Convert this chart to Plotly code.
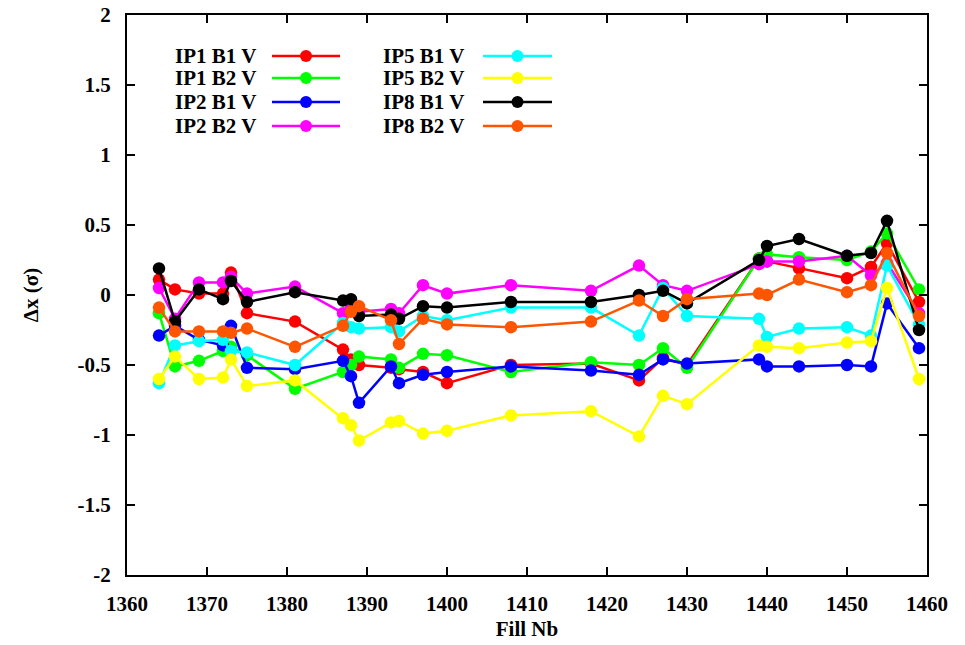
import plotly.graph_objects as go

# ---- data ----
fills = [1364, 1366, 1369, 1372, 1373, 1375, 1381, 1387, 1388, 1389, 1393, 1394, 1397,
         1400, 1408, 1418, 1424, 1427, 1430, 1439, 1440, 1444, 1450, 1453, 1455, 1459]

ip1_b1 = [0.11, 0.04, 0.01, 0.01, 0.16, -0.13, -0.19, -0.39, -0.46, -0.50, -0.52, -0.53, -0.55,
          -0.63, -0.50, -0.49, -0.61, -0.45, -0.50, 0.26, 0.24, 0.19, 0.12, 0.20, 0.37, -0.05]
ip1_b2 = [-0.13, -0.51, -0.47, -0.40, -0.37, -0.43, -0.67, -0.55, -0.50, -0.44, -0.46, -0.52, -0.42,
          -0.43, -0.55, -0.48, -0.50, -0.38, -0.52, 0.26, 0.29, 0.27, 0.25, 0.31, 0.44, 0.04]
ip2_b1 = [-0.29, -0.22, -0.32, -0.36, -0.22, -0.52, -0.53, -0.47, -0.58, -0.77, -0.51, -0.63, -0.57,
          -0.55, -0.51, -0.54, -0.57, -0.46, -0.49, -0.46, -0.51, -0.51, -0.50, -0.51, -0.06, -0.38]
ip2_b2 = [0.05, -0.17, 0.09, 0.09, 0.13, 0.01, 0.06, -0.13, -0.10, -0.12, -0.10, -0.13, 0.07,
          0.01, 0.07, 0.03, 0.21, 0.07, 0.03, 0.22, 0.24, 0.24, 0.28, 0.14, 0.23, -0.13]
ip5_b1 = [-0.63, -0.36, -0.33, -0.32, -0.40, -0.41, -0.50, -0.20, -0.23, -0.24, -0.23, -0.26, -0.15,
          -0.18, -0.09, -0.09, -0.29, 0.05, -0.15, -0.17, -0.30, -0.24, -0.23, -0.29, 0.21, -0.21]
ip5_b2 = [-0.60, -0.44, -0.60, -0.59, -0.46, -0.65, -0.61, -0.88, -0.93, -1.04, -0.91, -0.90, -0.99,
          -0.97, -0.86, -0.83, -1.01, -0.72, -0.78, -0.36, -0.37, -0.38, -0.34, -0.33, 0.05, -0.60]
ip8_b1 = [0.19, -0.19, 0.04, -0.03, 0.10, -0.05, 0.02, -0.04, -0.03, -0.15, -0.14, -0.17, -0.08,
          -0.09, -0.05, -0.05, 0.00, 0.03, -0.06, 0.25, 0.35, 0.40, 0.28, 0.30, 0.53, -0.25]
ip8_b2 = [-0.09, -0.26, -0.26, -0.26, -0.27, -0.24, -0.37, -0.22, -0.12, -0.08, -0.18, -0.35, -0.17,
          -0.21, -0.23, -0.19, -0.04, -0.15, -0.03, 0.01, 0.00, 0.11, 0.02, 0.07, 0.30, -0.15]

series_names = ["IP1 B1 V", "IP1 B2 V", "IP2 B1 V", "IP2 B2 V",
                "IP5 B1 V", "IP5 B2 V", "IP8 B1 V", "IP8 B2 V"]
series_values = [ip1_b1, ip1_b2, ip2_b1, ip2_b2, ip5_b1, ip5_b2, ip8_b1, ip8_b2]
series_colors = ["#ff0000", "#00ff00", "#0000ff", "#ff00ff",
                 "#00ffff", "#ffff00", "#000000", "#ff5500"]

x_ticks = [1360, 1370, 1380, 1390, 1400, 1410, 1420, 1430, 1440, 1450, 1460]
y_ticks = [-2, -1.5, -1, -0.5, 0, 0.5, 1, 1.5, 2]
y_tick_text = ["-2", "-1.5", "-1", "-0.5", "0", "0.5", "1", "1.5", "2"]

FONT = "Liberation Serif"
FS = 21

fig = go.Figure()
for name, vals, col in zip(series_names, series_values, series_colors):
    fig.add_trace(go.Scatter(
        x=fills, y=vals, name=name, mode="lines+markers",
        line=dict(color=col, width=2.5),
        marker=dict(color=col, size=12.5, symbol="circle"),
        showlegend=False,
    ))

# ---- custom legend (text left of sample, as in the reference) ----
L, R, T, B = 127, 38, 15, 70
W, H = 965, 645
pw, ph = W - L - R, H - T - B
col_text_right = [258, 466]
col_line = [(272, 340), (483, 552)]
row_y = [56, 78, 102, 126]
annotations = []
shapes = []
for i, (name, col) in enumerate(zip(series_names, series_colors)):
    c, r = divmod(i, 4)
    yp = 1 - (row_y[r] - T) / ph
    annotations.append(dict(
        x=(col_text_right[c] - L) / pw, y=yp, xref="paper", yref="paper",
        text="<b>%s</b>" % name, showarrow=False, xanchor="right", yanchor="middle",
        font=dict(family=FONT, size=FS, color="black")))
    x0 = (col_line[c][0] - L) / pw
    x1 = (col_line[c][1] - L) / pw
    shapes.append(dict(type="line", xref="paper", yref="paper", x0=x0, x1=x1, y0=yp, y1=yp,
                       line=dict(color=col, width=2.5)))
    shapes.append(dict(type="circle", xref="paper", yref="paper",
                       xsizemode="pixel", ysizemode="pixel",
                       xanchor=(x0 + x1) / 2, yanchor=yp,
                       x0=-6, x1=6, y0=-6, y1=6,
                       fillcolor=col, line=dict(color=col, width=0)))

axis_common = dict(
    showline=True, linecolor="black", linewidth=2, mirror="ticks",
    ticks="inside", ticklen=8, tickwidth=2, tickcolor="black",
    showgrid=False, zeroline=False, automargin=False,
    tickfont=dict(family=FONT, size=FS, color="black"),
)

fig.update_layout(
    width=W, height=H,
    margin=dict(l=L, r=R, t=T, b=B),
    paper_bgcolor="white", plot_bgcolor="white",
    font=dict(family=FONT, size=FS, color="black"),
    xaxis=dict(range=[1360, 1460], tickvals=x_ticks,
               ticktext=["<b>%d</b>" % v for v in x_ticks],
               ticklabelstandoff=9,
               title=dict(text="<b>Fill Nb</b>", standoff=6,
                          font=dict(family=FONT, size=FS)),
               **axis_common),
    yaxis=dict(range=[-2, 2], tickvals=y_ticks,
               ticktext=["<b>%s</b>" % t for t in y_tick_text],
               ticklabelstandoff=10,
               title=dict(text="<b>Δx (σ)</b>", standoff=33,
                          font=dict(family=FONT, size=FS)),
               **axis_common),
    annotations=annotations,
    shapes=shapes,
)

fig.write_html("out.html")
